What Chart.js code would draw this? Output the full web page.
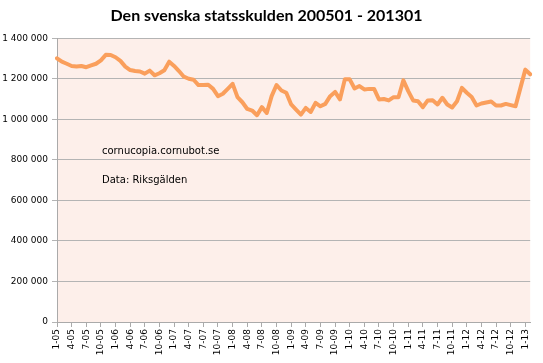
<!DOCTYPE html>
<html>
<head>
<meta charset="utf-8">
<script src="https://cdn.jsdelivr.net/npm/chart.js@4"></script>
<style>
  html, body { margin: 0; padding: 0; background: #fff; }
  #wrap { width: 543px; height: 363px; }
</style>
</head>
<body>
<div id="wrap"><canvas id="skuld" width="543" height="363"></canvas></div>
<script>
// months 1-05 .. 2-13 (tick label shown every third month)
var months = [];
for (var y = 5; y <= 13; y++) {
    for (var m = 1; m <= 12; m++) {
        if (y === 13 && m > 2) break;
        months.push(m + '-' + (y < 10 ? '0' + y : y));
    }
}

// statsskulden, mkr
var debt = [
    1301000, 1284000, 1274000, 1263000, 1260000, 1263000, 1257000, 1266000, 1274000, 1291000, 1318000, 1317000,
    1306000, 1288000, 1260000, 1243000, 1238000, 1236000, 1225000, 1240000, 1217000, 1227000, 1242000, 1284000,
    1263000, 1238000, 1210000, 1200000, 1195000, 1169000, 1169000, 1170000, 1150000, 1114000, 1126000, 1150000,
    1175000, 1109000, 1084000, 1051000, 1043000, 1020000, 1060000, 1031000, 1114000, 1169000, 1142000, 1131000,
    1073000, 1048000, 1023000, 1056000, 1036000, 1081000, 1064000, 1076000, 1114000, 1135000, 1098000, 1197000,
    1197000, 1152000, 1164000, 1147000, 1150000, 1150000, 1098000, 1100000, 1093000, 1109000, 1109000, 1192000,
    1139000, 1093000, 1089000, 1060000, 1093000, 1094000, 1073000, 1106000, 1073000, 1058000, 1089000, 1155000,
    1131000, 1110000, 1068000, 1078000, 1083000, 1088000, 1068000, 1068000, 1076000, 1070000, 1064000, 1155000,
    1245000, 1222000
];

var yTicks = [0, 200000, 400000, 600000, 800000, 1000000, 1200000, 1400000];
var notes = ['cornucopia.cornubot.se', 'Data: Riksgälden'];

function spaced(v) {
    return String(v).replace(/\B(?=(\d{3})+(?!\d))/g, ' ');
}

// pink plot area + the two text notes
var plotBg = {
    id: 'plotBg',
    beforeDraw: function (chart) {
        var a = chart.chartArea, c = chart.ctx;
        c.save();
        c.fillStyle = '#fdefea';
        c.fillRect(a.left, a.top, a.right - a.left, a.bottom - a.top);
        c.restore();
    },
    afterDraw: function (chart) {
        var c = chart.ctx;
        c.save();
        c.fillStyle = '#000';
        c.font = '10px "DejaVu Sans"';
        c.textBaseline = 'alphabetic';
        c.fillText(notes[0], 102, 154);
        c.fillText(notes[1], 102, 183);
        c.restore();
    }
};

var chart = new Chart(document.getElementById('skuld'), {
    type: 'line',
    data: {
        labels: months,
        datasets: [{
            label: 'Statsskulden',
            data: debt,
            borderColor: '#fa9f5c',
            borderWidth: 4,
            borderJoinStyle: 'round',
            borderCapStyle: 'round',
            pointRadius: 0,
            tension: 0,
            fill: false
        }]
    },
    options: {
        responsive: false,
        animation: false,
        layout: { padding: { left: 0, right: 10, top: 0, bottom: 0 } },
        plugins: {
            legend: { display: false },
            tooltip: { enabled: false },
            title: {
                display: true,
                text: 'Den svenska statsskulden 200501 - 201301',
                color: '#000',
                font: { family: 'Lato', size: 16, weight: 'bold' },
                padding: { top: 6, bottom: 13 }
            }
        },
        scales: {
            x: {
                offset: false,
                grid: {
                    drawOnChartArea: false,
                    tickLength: 5,
                    color: function (ctx) { return ctx.index % 3 === 0 ? '#aaaaaa' : 'rgba(0,0,0,0)'; }
                },
                border: { color: '#aaaaaa', width: 1 },
                ticks: {
                    autoSkip: false,
                    minRotation: 90,
                    maxRotation: 90,
                    padding: 2,
                    color: '#000',
                    font: { family: '"DejaVu Sans"', size: 9 },
                    callback: function (v, i) { return i % 3 === 0 ? months[i] : ''; }
                },
                afterFit: function (s) { s.height = 41; }
            },
            y: {
                min: 0,
                max: 1400000,
                afterBuildTicks: function (s) {
                    s.ticks = yTicks.map(function (v) { return { value: v }; });
                },
                grid: { color: '#b4b4b4', tickLength: 5 },
                border: { color: '#aaaaaa', width: 1 },
                ticks: {
                    color: '#000',
                    padding: 4,
                    font: { family: '"DejaVu Sans"', size: 9 },
                    callback: function (v) { return spaced(v); }
                },
                afterFit: function (s) { s.width = 57; }
            }
        }
    },
    plugins: [plotBg]
});
</script>
</body>
</html>
